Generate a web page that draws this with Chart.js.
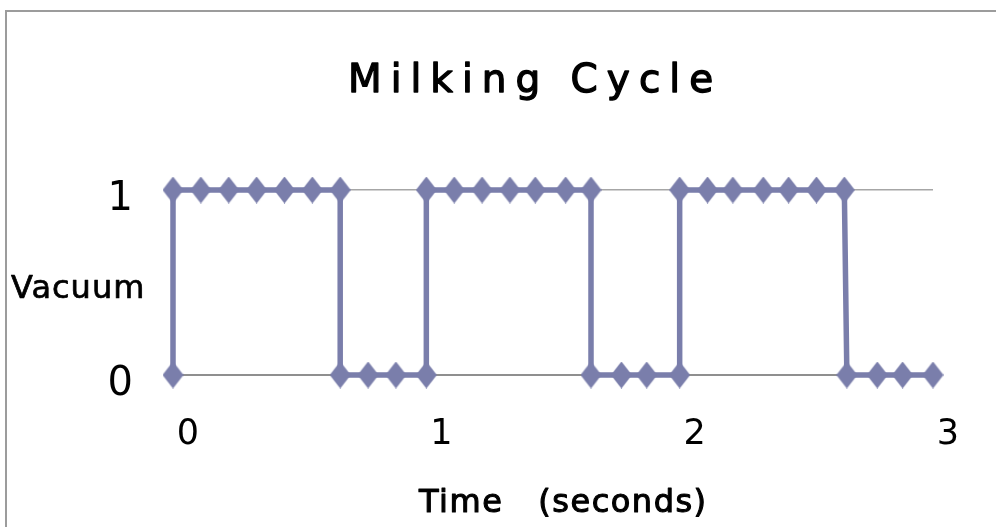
<!DOCTYPE html>
<html>
<head>
<meta charset="utf-8">
<title>Milking Cycle</title>
<script src="https://cdn.jsdelivr.net/npm/chart.js@4.4.1/dist/chart.umd.min.js"></script>
<style>
  html, body { margin: 0; padding: 0; background: #fff; overflow: hidden; }
  #frame { position: absolute; left: 5px; top: 10px; width: 1200px; height: 800px;
           border-left: 2px solid #9c9c9c; border-top: 2px solid #9c9c9c; }
  #wrap { position: absolute; left: 0; top: 0; width: 996px; height: 527px; }
</style>
</head>
<body>
<div id="frame"></div>
<div id="wrap"><canvas id="chart" width="996" height="527"></canvas></div>
<script>
// Time (s) and vacuum state (0 = off, 1 = on)
const timeSeconds = [
    0,
    0, 0.11, 0.22, 0.33, 0.44, 0.55, 0.66,
    0.66, 0.77, 0.88, 1.0,
    1.0, 1.11, 1.22, 1.33, 1.43, 1.55, 1.65,
    1.65, 1.77, 1.87, 2.0,
    2.0, 2.11, 2.21, 2.33, 2.43, 2.54, 2.65,
    2.66, 2.78, 2.88, 3.0
];
const vacuum = [
    0,
    1, 1, 1, 1, 1, 1, 1,
    0, 0, 0, 0,
    1, 1, 1, 1, 1, 1, 1,
    0, 0, 0, 0,
    1, 1, 1, 1, 1, 1, 1,
    0, 0, 0, 0
];
const xTickValues = [0, 1, 2, 3];
const yTickValues = [0, 1];

const chartTitle = 'Milking Cycle';
const xTitle = 'Time   (seconds)';
const yTitle = 'Vacuum';
const seriesColor = '#7a7eab';

// Excel style diamond marker (a bit taller than wide)
function makeDiamond(w, h, color) {
    const c = document.createElement('canvas');
    c.width = w;
    c.height = h;
    const g = c.getContext('2d');
    g.fillStyle = color;
    g.beginPath();
    g.moveTo(w / 2, 0);
    g.lineTo(w, h / 2);
    g.lineTo(w / 2, h);
    g.lineTo(0, h / 2);
    g.closePath();
    g.fill();
    return c;
}

// fill + thin stroke gives a medium weight the font doesn't have
function heavyText(ctx, text, x, y, weight) {
    ctx.lineWidth = weight;
    ctx.fillText(text, x, y);
    ctx.strokeText(text, x, y);
}

// Title and axis titles (title is spaced out, y title is horizontal)
const textLabels = {
    id: 'textLabels',
    afterDraw(chart) {
        const ctx = chart.ctx;
        ctx.save();
        ctx.fillStyle = '#000';
        ctx.strokeStyle = '#000';
        ctx.lineJoin = 'round';
        ctx.textAlign = 'left';
        ctx.textBaseline = 'alphabetic';

        ctx.font = '39px "DejaVu Sans"';
        ctx.letterSpacing = '9px';
        heavyText(ctx, chartTitle, 348, 92, 1.3);

        ctx.font = '32px "DejaVu Sans"';
        ctx.letterSpacing = '1px';
        heavyText(ctx, yTitle, 11, 298, 0.7);

        ctx.letterSpacing = '1.5px';
        heavyText(ctx, xTitle, 419, 512, 1.1);
        ctx.restore();
    }
};

const points = timeSeconds.map((t, i) => ({ x: t, y: vacuum[i] }));
const diamond = makeDiamond(21, 27, seriesColor);

new Chart(document.getElementById('chart').getContext('2d'), {
    type: 'scatter',
    data: {
        datasets: [{
            label: yTitle,
            data: points,
            showLine: true,
            borderColor: seriesColor,
            backgroundColor: seriesColor,
            borderWidth: 5.5,
            pointStyle: diamond,
            pointRadius: 10,
            tension: 0,
            clip: false
        }]
    },
    options: {
        responsive: false,
        animation: false,
        devicePixelRatio: 1,
        layout: { padding: { left: 0, top: 190, right: 63, bottom: 0 } },
        plugins: {
            legend: { display: false },
            title: { display: false },
            tooltip: { enabled: false }
        },
        scales: {
            x: {
                type: 'linear',
                min: 0,
                max: 3,
                afterFit: s => { s.height = 152; },
                afterBuildTicks: s => { s.ticks = xTickValues.map(v => ({ value: v })); },
                grid: { display: true, drawOnChartArea: false, drawTicks: true, tickLength: 8, color: '#999', lineWidth: 1.5 },
                border: { display: true, color: '#8f8f8f', width: 2 },
                ticks: {
                    color: '#000',
                    font: { family: 'DejaVu Sans', size: 35 },
                    padding: 31,
                    labelOffset: 15,
                    maxRotation: 0,
                    autoSkip: false
                }
            },
            y: {
                min: 0,
                max: 1,
                afterFit: s => { s.width = 173; },
                afterBuildTicks: s => { s.ticks = yTickValues.map(v => ({ value: v })); },
                grid: { color: '#a6a6a6', lineWidth: 1.5, drawTicks: false },
                border: { display: false },
                ticks: {
                    color: '#000',
                    font: { family: 'DejaVu Sans', size: 40 },
                    padding: 40,
                    labelOffset: 10
                }
            }
        }
    },
    plugins: [textLabels]
});
</script>
</body>
</html>
